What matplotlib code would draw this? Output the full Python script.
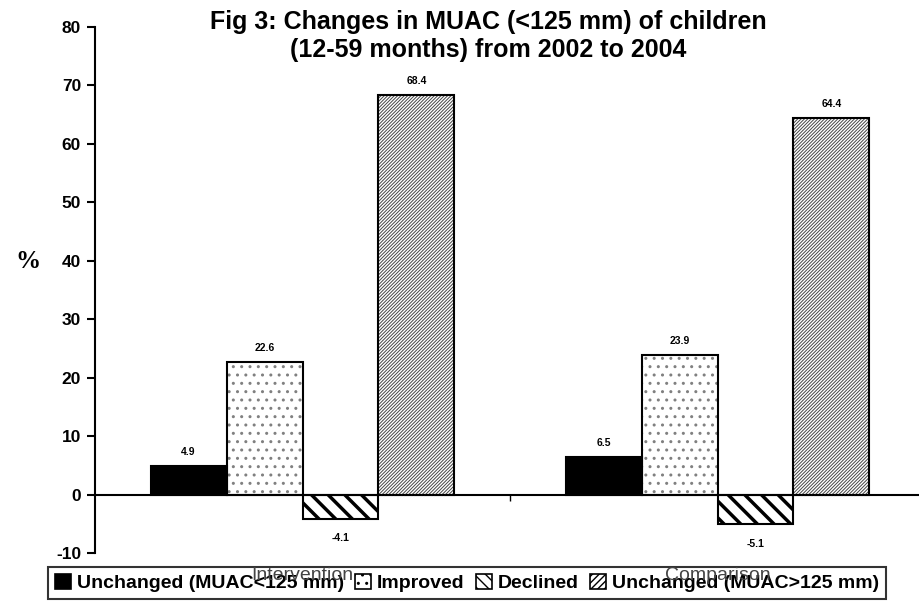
import matplotlib
matplotlib.use('Agg')
import matplotlib.pyplot as plt
import numpy as np
from matplotlib.patches import Patch

groups = ['Intervention', 'Comparison']
series = ['Unchanged (MUAC<125 mm)', 'Improved', 'Declined', 'Unchanged (MUAC>125 mm)']
values = [
    [4.9, 6.5],
    [22.6, 23.9],
    [-4.1, -5.1],
    [68.4, 64.4],
]
labels = [
    ['4.9', '6.5'],
    ['22.6', '23.9'],
    ['-4.1', '-5.1'],
    ['68.4', '64.4'],
]

plt.rcParams['font.family'] = ['Liberation Sans', 'DejaVu Sans']
plt.rcParams['font.weight'] = 'bold'
plt.rcParams['axes.unicode_minus'] = False

# face colour, hatch, hatch colour, hatch width
styles = [
    ('black', None, 'black', 1.0),
    ('white', '..', '#808080', 1.0),
    ('white', '\\\\', 'black', 2.5),
    ('white', '//////////', '#444444', 0.7),
]

fig = plt.figure(figsize=(9.19, 6.07), dpi=100)
ax = fig.add_axes([95 / 919, 1 - 553 / 607, 830 / 919, 526 / 607])

x = np.arange(len(groups))
w = 0.183
for i in range(len(series)):
    pos = x + (i - 1.5) * w
    face, hatch, hcol, hlw = styles[i]
    bars = ax.bar(pos, values[i], w, color=face, edgecolor=hcol, hatch=hatch, linewidth=0, zorder=2)
    for b in bars:
        if hatch and hasattr(b, 'set_hatch_linewidth'):
            b.set_hatch_linewidth(hlw)
    ax.bar(pos, values[i], w, fill=False, edgecolor='black', linewidth=1.5, zorder=3)
    for xp, v, t in zip(pos, values[i], labels[i]):
        if v >= 0:
            ax.text(xp, v + 2.4, t, ha='center', va='center', fontsize=7.5, fontweight='bold')
        else:
            ax.text(xp, v - 3.4, t, ha='center', va='center', fontsize=7.5, fontweight='bold')

ax.set_xlim(-0.5, 1.5)
ax.set_ylim(-10, 80)
ax.set_yticks(range(-10, 81, 10))
ax.tick_params(axis='y', direction='out', length=6, width=1.5, labelsize=12.5, pad=4)
ax.set_xticks([0.5])
ax.set_xticklabels([''])
ax.tick_params(axis='x', direction='out', length=4, width=1)
for s in ['top', 'right']:
    ax.spines[s].set_visible(False)
ax.spines['bottom'].set_position(('data', 0))
ax.spines['bottom'].set_linewidth(1.5)
ax.spines['left'].set_linewidth(1.5)

fig.text(28 / 919, 1 - 262 / 607, '%', fontsize=18, fontweight='bold', family='Liberation Serif', ha='center', va='center')
fig.text(488 / 919, 1 - 36 / 607, 'Fig 3: Changes in MUAC (<125 mm) of children\n(12-59 months) from 2002 to 2004',
         ha='center', va='center', fontsize=18, fontweight='bold', linespacing=1.25)

handles = []
for i, s in enumerate(series):
    face, hatch, hcol, hlw = styles[i]
    hh = '\\\\\\' if hatch == '\\\\' else hatch
    if hatch and hatch.startswith('/'):
        hh = '/////'
    handles.append(Patch(facecolor=face, edgecolor='black', hatch=hh, linewidth=1.2, label=s))
leg = fig.legend(handles=handles, loc='center', bbox_to_anchor=(467 / 919, 1 - 583 / 607), ncol=4,
                 fontsize=14, frameon=True, fancybox=False, edgecolor='black', facecolor='none',
                 handlelength=0.8, handleheight=0.8, handletextpad=0.3, columnspacing=0.6, borderpad=0.35)
leg.get_frame().set_linewidth(1.5)
for t in leg.get_texts():
    t.set_fontweight('bold')

# category names run through the legend, as in the original
for xi, g in zip(x, groups):
    fig.text(ax.transData.transform((xi, 0))[0] / fig.dpi / 9.19, 1 - 575 / 607, g, ha='center', va='center',
             fontsize=14, fontweight='normal', color='#444444', zorder=10)

fig.savefig('out.png', dpi=100)
